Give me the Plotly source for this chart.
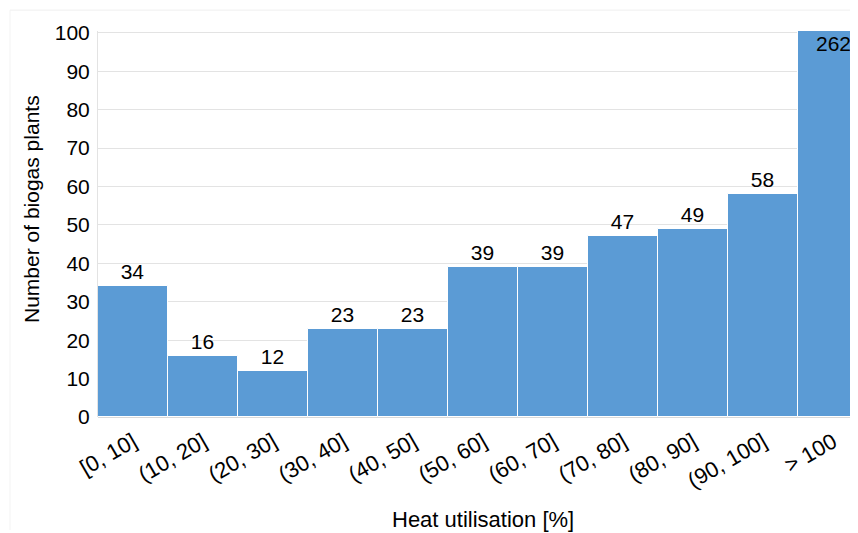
import plotly.graph_objects as go

categories = ["[0, 10]", "(10, 20]", "(20, 30]", "(30, 40]", "(40, 50]", "(50, 60]",
              "(60, 70]", "(70, 80]", "(80, 90]", "(90, 100]", "> 100"]
counts = [34, 16, 12, 23, 23, 39, 39, 47, 49, 58, 262]
y_ticks = [0, 10, 20, 30, 40, 50, 60, 70, 80, 90, 100]
Y_MAX = 100
X_TITLE = "Heat utilisation [%]"
Y_TITLE = "Number of biogas plants"

FONT = "Liberation Sans, Arial, sans-serif"
BLUE = "#5B9BD5"

fig = go.Figure(go.Bar(
    x=list(range(len(categories))),
    y=counts,
    text=[str(v) if v <= Y_MAX else "" for v in counts],
    textposition="outside",
    textfont=dict(family=FONT, size=21, color="#000000"),
    marker=dict(color=BLUE, line=dict(color="#ffffff", width=1)),
    cliponaxis=True,
    constraintext="none",
))

annotations = []
# label for bars that exceed the visible axis range
for i, v in enumerate(counts):
    if v > Y_MAX:
        annotations.append(dict(x=i, y=Y_MAX, xref="x", yref="y", text=str(v),
                                showarrow=False, yanchor="top", yshift=3,
                                font=dict(family=FONT, size=21, color="#000000")))
# axis titles
annotations.append(dict(x=0.5066, y=-0.265, xref="paper", yref="paper", text=X_TITLE,
                        showarrow=False, xanchor="center", yanchor="middle",
                        font=dict(family=FONT, size=22, color="#000000")))
annotations.append(dict(x=-0.0868, y=0.539, xref="paper", yref="paper", text=Y_TITLE,
                        showarrow=False, xanchor="center", yanchor="middle", textangle=-90,
                        font=dict(family=FONT, size=21, color="#000000")))

# page body has an 8px default margin, so the figure is 8px smaller than the window
fig.update_layout(
    width=850, height=525,
    margin=dict(l=90, r=0, t=23, b=116),
    paper_bgcolor="#ffffff", plot_bgcolor="#ffffff",
    bargap=0,
    showlegend=False,
    font=dict(family=FONT, color="#000000"),
    annotations=annotations,
    xaxis=dict(
        range=[-0.5, 10.357],
        tickmode="array", tickvals=list(range(len(categories))), ticktext=categories,
        tickangle=-30, tickfont=dict(size=22, family=FONT),
        ticklabelstandoff=7,
        showgrid=False, zeroline=False, showline=False, ticks="",
        automargin=False,
        fixedrange=True,
    ),
    yaxis=dict(
        range=[0, Y_MAX + 0.5],
        tickmode="array", tickvals=y_ticks,
        tickfont=dict(size=21, family=FONT),
        ticklabelstandoff=3,
        showgrid=True, gridcolor="#e3e3e3", gridwidth=1,
        zeroline=True, zerolinecolor="#d9d9d9", zerolinewidth=2,
        showline=True, linecolor="#e3e3e3", linewidth=1,
        ticks="", ticklen=0,
        automargin=False,
        fixedrange=True,
    ),
    shapes=[
        dict(type="line", xref="paper", yref="paper", x0=-0.1158, x1=1.02, y0=1.054, y1=1.054,
             line=dict(color="#efefef", width=1)),
        dict(type="line", xref="paper", yref="paper", x0=-0.1158, x1=-0.1158, y0=-0.293, y1=1.054,
             line=dict(color="#f3f3f3", width=1)),
    ],
)

fig.write_html("out.html")
